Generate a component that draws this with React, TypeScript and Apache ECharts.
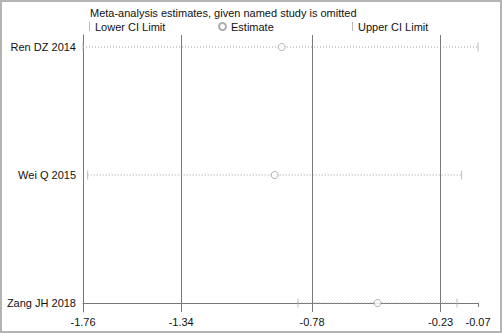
import React, { useEffect, useRef } from "react";
import * as echarts from "echarts";

const studies = ["Ren DZ 2014", "Wei Q 2015", "Zang JH 2018"];
const estimate = [-0.91, -0.94, -0.5];
const lowerCI = [-1.76, -1.74, -0.84];
const upperCI = [-0.07, -0.14, -0.16];
const refLines = [-1.34, -0.78, -0.23];
const xTicks = [-1.76, -1.34, -0.78, -0.23, -0.07];
const titleText = "Meta-analysis estimates, given named study is omitted";

const FONT = "'Liberation Sans', Arial, Helvetica, sans-serif";

export default function App() {
  const ref = useRef<HTMLDivElement>(null);
  useEffect(() => {
    document.body.style.margin = "0";
    if (!ref.current) return;
    const chart = echarts.init(ref.current, null, { renderer: "svg" });
    const n = studies.length;
    const yOf = (i: number) => n - 1 - i;
    const legendText = { fontSize: 11, color: "#111", fontFamily: FONT };
    const option: any = {
      animation: false,
      backgroundColor: "#fff",
      textStyle: { fontFamily: FONT },
      title: {
        text: titleText,
        left: 85,
        top: 2,
        textStyle: { fontSize: 11, fontWeight: "normal", color: "#111", fontFamily: FONT },
      },
      legend: [
        {
          data: ["Lower CI Limit"],
          left: 84,
          top: 16,
          icon: "rect",
          itemWidth: 1,
          itemHeight: 9,
          textStyle: legendText,
        },
        {
          data: ["Estimate"],
          left: 213,
          top: 16,
          icon: "circle",
          itemWidth: 7,
          itemHeight: 7,
          textStyle: legendText,
        },
        {
          data: ["Upper CI Limit"],
          left: 347,
          top: 16,
          icon: "rect",
          itemWidth: 1,
          itemHeight: 9,
          textStyle: legendText,
        },
      ],
      grid: { left: 83, right: 24, top: 35, bottom: 21, containLabel: false },
      xAxis: {
        type: "value",
        min: -1.76,
        max: -0.07,
        axisLine: { show: true, lineStyle: { color: "#777", width: 1 } },
        axisTick: { show: true, customValues: xTicks, length: 4, lineStyle: { color: "#777" } },
        axisLabel: {
          customValues: xTicks,
          formatter: (v: number) => v.toFixed(2),
          fontSize: 11,
          color: "#111",
          margin: 4,
          fontFamily: FONT,
          hideOverlap: false,
        },
        splitLine: { show: false },
      },
      yAxis: {
        type: "value",
        min: -0.07,
        max: 2.094,
        axisLine: { show: true, lineStyle: { color: "#777", width: 1 } },
        axisTick: { show: false },
        axisLabel: {
          customValues: studies.map((_, i) => yOf(i)),
          formatter: (v: number) => studies[n - 1 - Math.round(v)],
          fontSize: 11,
          color: "#111",
          margin: 7,
          fontFamily: FONT,
        },
        splitLine: { show: false },
      },
      series: [
        {
          type: "custom",
          name: "CI",
          silent: true,
          renderItem: (params: any, api: any) => {
            const lo = api.value(0);
            const y = api.value(1);
            const hi = api.value(2);
            const p1 = api.coord([lo, y]);
            const p2 = api.coord([hi, y]);
            return {
              type: "line",
              shape: { x1: p1[0], y1: p1[1], x2: p2[0], y2: p2[1] },
              style: { stroke: "#a0a0a0", lineWidth: 1, lineDash: [1, 2] },
            };
          },
          data: studies.map((_, i) => [lowerCI[i], yOf(i), upperCI[i]]),
          markLine: {
            silent: true,
            symbol: ["none", "none"],
            label: { show: false },
            lineStyle: { color: "#7a7a7a", width: 1, type: "solid" },
            data: refLines.map((v) => ({ xAxis: v })),
          },
          z: 2,
        },
        {
          type: "scatter",
          name: "Lower CI Limit",
          symbol: "rect",
          symbolSize: [1, 9],
          itemStyle: { color: "#aaaaaa" },
          data: studies.map((_, i) => [lowerCI[i], yOf(i)]),
          z: 3,
        },
        {
          type: "scatter",
          name: "Upper CI Limit",
          symbol: "rect",
          symbolSize: [1, 9],
          itemStyle: { color: "#aaaaaa" },
          data: studies.map((_, i) => [upperCI[i], yOf(i)]),
          z: 3,
        },
        {
          type: "scatter",
          name: "Estimate",
          symbol: "circle",
          symbolSize: 7,
          itemStyle: { color: "#ffffff", borderColor: "#9a9a9a", borderWidth: 1 },
          data: studies.map((_, i) => [estimate[i], yOf(i)]),
          z: 4,
        },
      ],
      graphic: [
        {
          type: "rect",
          shape: { x: 1, y: 1, width: 500, height: 331 },
          style: { fill: "none", stroke: "#b4b4b4", lineWidth: 2 },
          silent: true,
          z: 100,
        },
      ],
    };
    chart.setOption(option);
    return () => chart.dispose();
  }, []);
  return <div ref={ref} style={{ width: 502, height: 333 }} />;
}
